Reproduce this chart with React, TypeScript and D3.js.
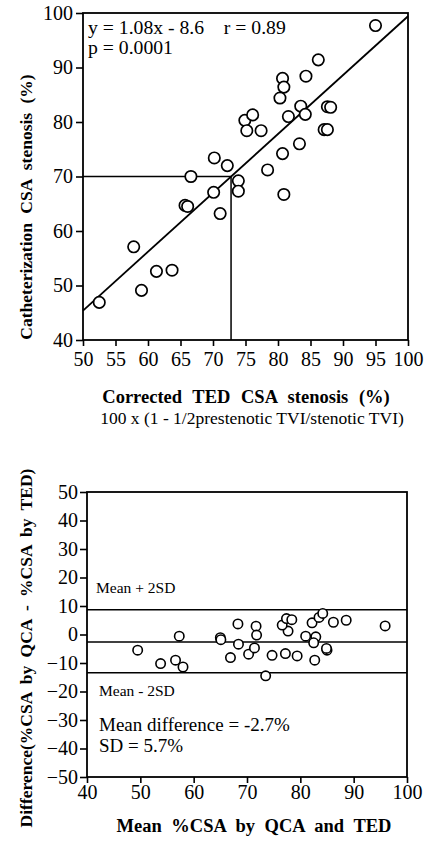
import React, { useRef, useEffect } from 'react';
import { select, scaleLinear, axisLeft, axisBottom, range } from 'd3';

// corrected TED CSA stenosis (%) vs catheterization CSA stenosis (%)
const tedStenosis = [
  95.0, 86.2, 84.3, 80.7, 80.9, 80.3, 83.5, 84.2, 81.6, 87.6, 88.1, 87.1,
  87.6, 74.9, 76.1, 75.2, 77.4, 83.3, 80.7, 70.2, 72.2, 78.4, 66.6, 73.9,
  73.9, 80.9, 70.1, 65.7, 66.1, 71.1, 57.8, 61.3, 63.7, 59.0, 52.5,
];
const cathStenosis = [
  97.7, 91.4, 88.4, 88.0, 86.4, 84.4, 82.9, 81.4, 81.0, 82.8, 82.7, 78.6,
  78.6, 80.3, 81.3, 78.4, 78.4, 76.0, 74.2, 73.4, 72.0, 71.2, 70.0, 69.2,
  67.3, 66.7, 67.1, 64.7, 64.5, 63.2, 57.1, 52.6, 52.8, 49.1, 46.9,
];

// Bland-Altman: mean %CSA vs difference
const meanCsa = [
  49.5, 53.8, 56.6, 58.0, 57.3, 65.0, 65.1, 68.3, 68.4, 66.9, 71.7, 71.8,
  70.3, 71.4, 73.5, 74.7, 77.2, 79.4, 77.7, 76.6, 77.4, 78.4, 82.2, 83.5,
  84.2, 86.2, 88.6, 95.9, 81.0, 82.9, 82.5, 82.7, 85.0, 84.9,
];
const diffCsa = [
  -5.5, -10.2, -9.0, -11.4, -0.6, -1.1, -1.8, 3.7, -3.4, -8.1, 2.9, -0.2,
  -6.9, -4.7, -14.5, -7.3, -6.7, -7.5, 1.2, 3.3, 5.6, 5.2, 4.1, 6.0,
  7.4, 4.3, 5.0, 3.0, -0.6, -0.8, -2.9, -9.0, -5.5, -4.9,
];

const slope = 1.08;
const intercept = -8.6;
const cutoffY = 70;
const meanDiff = -2.6;
const upperLimit = 8.7;
const lowerLimit = -13.4;

const topXTicks = range(50, 101, 5);
const topYTicks = range(40, 101, 10);
const botXTicks = range(40, 101, 10);
const botYTicks = range(-50, 51, 10);

const FONT = "'Liberation Serif', 'Times New Roman', serif";

const App: React.FC = () => {
  const svgRef = useRef(null);

  useEffect(() => {
    const svg = select(svgRef.current);
    svg.selectAll('*').remove();

    // ---------- top chart ----------
    const x1 = scaleLinear().domain([50, 100]).range([83, 408]);
    const y1 = scaleLinear().domain([40, 100]).range([340, 13]);

    const top = svg.append('g');
    top
      .append('rect')
      .attr('x', 83)
      .attr('y', 13)
      .attr('width', 325)
      .attr('height', 327)
      .attr('fill', 'none')
      .attr('stroke', '#000')
      .attr('stroke-width', 1.8);

    const ax1 = top
      .append('g')
      .attr('transform', 'translate(0,340)')
      .call(axisBottom(x1).tickValues(topXTicks).tickSize(6).tickPadding(6).tickSizeOuter(0));
    const ay1 = top
      .append('g')
      .attr('transform', 'translate(83,0)')
      .call(axisLeft(y1).tickValues(topYTicks).tickSize(7).tickPadding(3).tickSizeOuter(0));

    // regression line
    top
      .append('line')
      .attr('x1', x1(50))
      .attr('y1', y1(slope * 50 + intercept))
      .attr('x2', x1(100))
      .attr('y2', y1(slope * 100 + intercept))
      .attr('stroke', '#000')
      .attr('stroke-width', 1.8);

    const cutX = (cutoffY - intercept) / slope;
    top
      .append('polyline')
      .attr('points', `${x1(50)},${y1(cutoffY)} ${x1(cutX)},${y1(cutoffY)} ${x1(cutX)},${y1(40)}`)
      .attr('fill', 'none')
      .attr('stroke', '#000')
      .attr('stroke-width', 1.5);

    top
      .append('g')
      .selectAll('circle')
      .data(tedStenosis.map((d, i) => [d, cathStenosis[i]]))
      .join('circle')
      .attr('cx', (d) => x1(d[0]))
      .attr('cy', (d) => y1(d[1]))
      .attr('r', 5.7)
      .attr('fill', '#fff')
      .attr('stroke', '#000')
      .attr('stroke-width', 1.7);

    top
      .append('text')
      .attr('x', 88)
      .attr('y', 34)
      .attr('font-size', 19.7)
      .style('white-space', 'pre')
      .text('y = 1.08x - 8.6    r = 0.89');
    top.append('text').attr('x', 88).attr('y', 54).attr('font-size', 19.7).text('p = 0.0001');

    top
      .append('text')
      .attr('x', 246)
      .attr('y', 403)
      .attr('text-anchor', 'middle')
      .attr('font-weight', 'bold')
      .attr('font-size', 18.5)
      .attr('word-spacing', 6)
      .text('Corrected TED CSA stenosis (%)');
    top
      .append('text')
      .attr('x', 252)
      .attr('y', 424)
      .attr('text-anchor', 'middle')
      .attr('font-size', 17.5)
      .text('100 x (1 - 1/2prestenotic TVI/stenotic TVI)');
    top
      .append('text')
      .attr('transform', 'translate(32,207) rotate(-90)')
      .attr('text-anchor', 'middle')
      .attr('font-weight', 'bold')
      .attr('font-size', 17.5)
      .attr('word-spacing', 5)
      .text('Catheterization CSA stenosis (%)');

    // ---------- bottom chart ----------
    const x2 = scaleLinear().domain([40, 100]).range([87, 407]);
    const y2 = scaleLinear().domain([-50, 50]).range([777, 492]);

    const bot = svg.append('g');
    bot
      .append('rect')
      .attr('x', 87)
      .attr('y', 492)
      .attr('width', 320)
      .attr('height', 285)
      .attr('fill', 'none')
      .attr('stroke', '#000')
      .attr('stroke-width', 1.8);

    const ax2 = bot
      .append('g')
      .attr('transform', 'translate(0,777)')
      .call(axisBottom(x2).tickValues(botXTicks).tickSize(6).tickPadding(2).tickSizeOuter(0));
    const ay2 = bot
      .append('g')
      .attr('transform', 'translate(87,0)')
      .call(axisLeft(y2).tickValues(botYTicks).tickSize(7).tickPadding(2).tickSizeOuter(0));

    [upperLimit, meanDiff, lowerLimit].forEach((v) => {
      bot
        .append('line')
        .attr('x1', x2(40))
        .attr('x2', x2(100))
        .attr('y1', y2(v))
        .attr('y2', y2(v))
        .attr('stroke', '#000')
        .attr('stroke-width', 1.5);
    });

    bot
      .append('g')
      .selectAll('circle')
      .data(meanCsa.map((d, i) => [d, diffCsa[i]]))
      .join('circle')
      .attr('cx', (d) => x2(d[0]))
      .attr('cy', (d) => y2(d[1]))
      .attr('r', 4.7)
      .attr('fill', '#fff')
      .attr('stroke', '#000')
      .attr('stroke-width', 1.6);

    bot.append('text').attr('x', 96).attr('y', 593).attr('font-size', 15.5).text('Mean + 2SD');
    bot.append('text').attr('x', 99).attr('y', 696).attr('font-size', 15.5).text('Mean - 2SD');
    bot.append('text').attr('x', 99).attr('y', 731).attr('font-size', 19).text('Mean difference = -2.7%');
    bot.append('text').attr('x', 99).attr('y', 752).attr('font-size', 19).text('SD = 5.7%');

    bot
      .append('text')
      .attr('x', 254)
      .attr('y', 832)
      .attr('text-anchor', 'middle')
      .attr('font-weight', 'bold')
      .attr('font-size', 18.5)
      .attr('word-spacing', 5)
      .text('Mean %CSA by QCA and TED');
    bot
      .append('text')
      .attr('transform', 'translate(32,648) rotate(-90)')
      .attr('text-anchor', 'middle')
      .attr('font-weight', 'bold')
      .attr('font-size', 17.5)
      .attr('word-spacing', 4)
      .text('Difference(%CSA by QCA - %CSA by TED)');

    [ax1, ay1, ax2, ay2].forEach((a) => {
      a.select('.domain').remove();
      a.selectAll('line').attr('stroke-width', 1.6);
      a.selectAll('text').attr('font-size', 20).attr('font-family', FONT).attr('fill', '#000');
    });
  }, []);

  return (
    <svg
      ref={svgRef}
      width={426}
      height={841}
      style={{ position: 'absolute', left: 0, top: 0, background: '#fff' }}
      fontFamily={FONT}
      fontSize={18}
    />
  );
};

export default App;
